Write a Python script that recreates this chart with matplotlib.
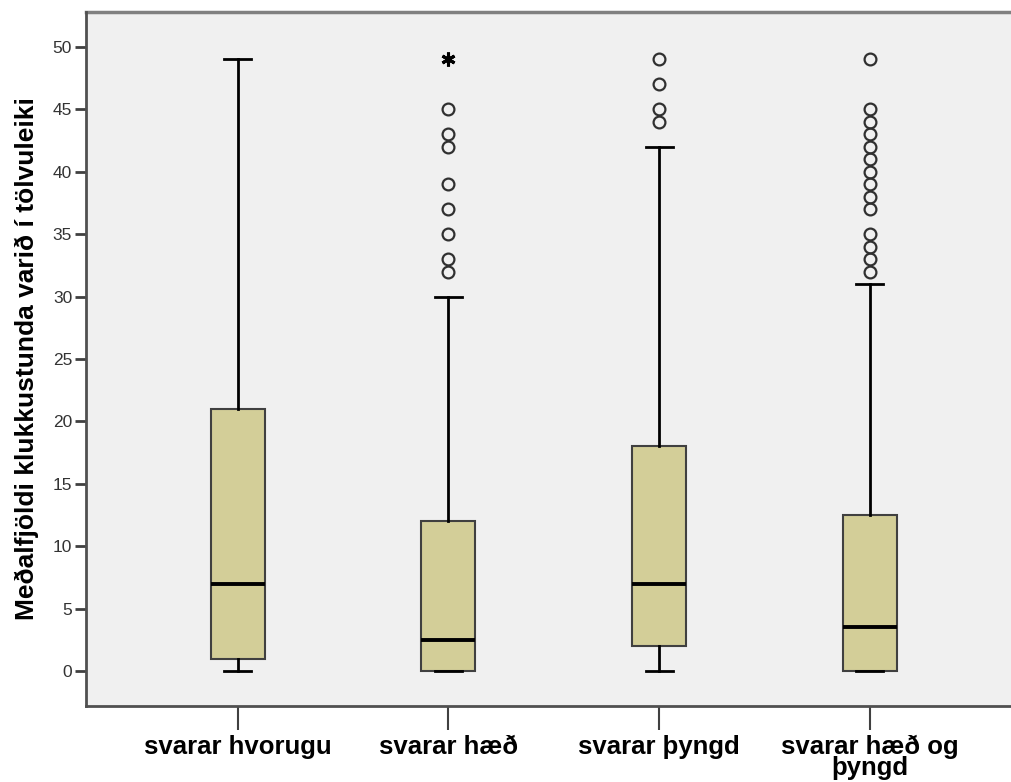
import matplotlib
matplotlib.use("Agg")
import matplotlib.pyplot as plt

plt.rcParams['font.family'] = ['Liberation Sans', 'DejaVu Sans']

categories = ["svarar hvorugu", "svarar hæð", "svarar þyngd", "svarar hæð og\nþyngd"]
whisker_low = [0, 0, 0, 0]
q1 = [1, 0, 2, 0]
medians = [7, 2.5, 7, 3.5]
q3 = [21, 12, 18, 12.5]
whisker_high = [49, 30, 42, 31]
outliers = [
    [],
    [45, 43, 42, 39, 37, 35, 33, 32],
    [47, 45, 44, 49],
    [49, 45, 44, 43, 42, 41, 40, 39, 38, 37, 35, 34, 33, 32],
]
extremes = [[], [49], [], []]
y_ticks = [0, 5, 10, 15, 20, 25, 30, 35, 40, 45, 50]
y_label = "Meðalfjöldi klukkustunda varið í tölvuleiki"

fig = plt.figure(figsize=(10.11, 7.82), dpi=100)
ax = fig.add_axes([86/1011, 76/782, 1 - 86/1011, (706-12)/782])
ax.set_facecolor('#F0F0F0')

stats = []
for i in range(len(categories)):
    stats.append(dict(med=medians[i], q1=q1[i], q3=q3[i],
                      whislo=whisker_low[i], whishi=whisker_high[i],
                      fliers=outliers[i]))
positions = list(range(1, len(categories) + 1))
ax.bxp(stats, positions=positions, widths=0.256, patch_artist=True,
       showfliers=True,
       boxprops=dict(facecolor='#D3CE98', edgecolor='#404040', linewidth=1.5),
       medianprops=dict(color='black', linewidth=2.8),
       whiskerprops=dict(color='black', linewidth=2),
       capprops=dict(color='black', linewidth=2),
       capwidths=0.128,
       flierprops=dict(marker='o', markerfacecolor='none', markeredgecolor='#303030',
                       markersize=8.5, markeredgewidth=1.6, linestyle='none'))

for i, ex in enumerate(extremes):
    if ex:
        ax.plot([positions[i]] * len(ex), ex, linestyle='none',
                marker=(6, 2, 0), markersize=10, markeredgewidth=2.2,
                color='black')

ax.set_xlim(0.28, 4.67)
ax.set_ylim(-2.8, 52.8)
ax.set_yticks(y_ticks)
ax.set_yticklabels([str(t) for t in y_ticks], fontsize=12.5, color='#333333')
ax.set_xticks(positions)
ax.set_xticklabels(categories, fontsize=18.5, fontweight='bold', linespacing=0.8)
ax.tick_params(axis='y', length=8, width=2, color='#404040', pad=2)
ax.tick_params(axis='x', length=17, width=1.5, color='#404040', pad=4)
ax.set_ylabel(y_label, fontsize=19, fontweight='bold', labelpad=10)

for s in ['right', 'top']:
    ax.spines[s].set_visible(False)
ax.spines['left'].set_color('#505050')
ax.spines['left'].set_linewidth(2)
ax.spines['bottom'].set_color('#505050')
ax.spines['bottom'].set_linewidth(2)
ax.axhline(52.8, color='#808080', linewidth=2.5, clip_on=False)

fig.savefig('out.png', dpi=100, facecolor='white')
